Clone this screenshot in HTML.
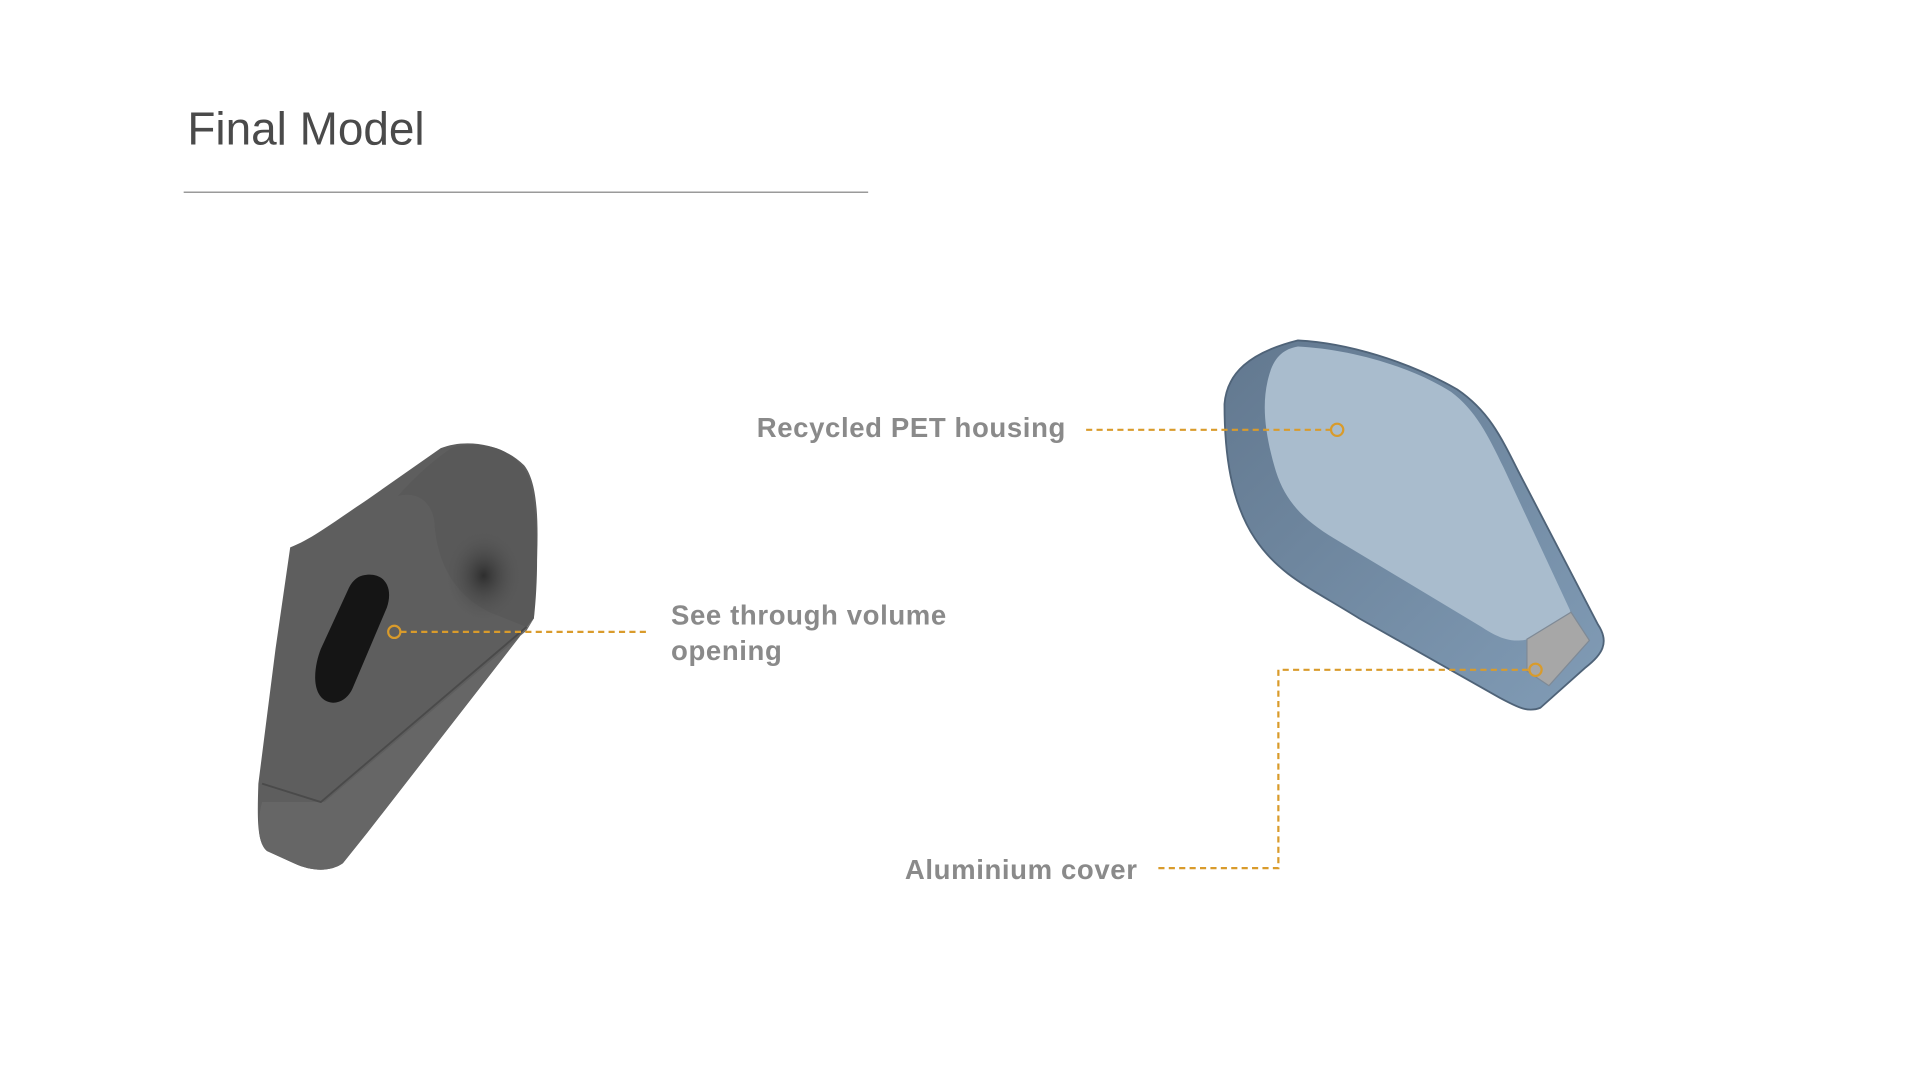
<!DOCTYPE html>
<html><head><meta charset="utf-8"><style>
html,body{margin:0;padding:0;background:#fff;width:1920px;height:1080px;overflow:hidden}
svg{display:block}
</style></head><body>
<svg width="1920" height="1080" viewBox="0 0 1568 882" xmlns="http://www.w3.org/2000/svg">
<defs>
<radialGradient id="sh" cx="0.5" cy="0.5" r="0.5"><stop offset="0" stop-color="#2e2e2e"/><stop offset="1" stop-color="#5a5a5a" stop-opacity="0"/></radialGradient>
<linearGradient id="side" x1="0" y1="0" x2="1" y2="1"><stop offset="0" stop-color="#62788f"/><stop offset="1" stop-color="#819cb6"/></linearGradient>
</defs>
<text x="153" y="118" font-family="Liberation Sans, sans-serif" font-size="37.5" fill="#4a4a4a">Final Model</text>
<line x1="150" y1="157" x2="709" y2="157" stroke="#9a9a9a" stroke-width="1.3"/>

<!-- gray object -->
<path d="M237,447 C255,440 270,428 300,408 L360,366 C380,358 410,362 428,380 C440,395 440,430 438,470 L436,505 L300,680 L280,705 C270,712 255,712 240,705 L218,695 C210,688 210,670 211,640 L225,530 Z" fill="#5e5e5e"/>
<path d="M325,405 C345,400 355,415 355,430 C358,460 370,485 400,500 L430,512 L436,505 C440,470 440,420 432,390 C420,365 395,360 370,365 C355,375 340,388 325,405 Z" fill="#595959"/>
<ellipse cx="395" cy="470" rx="32" ry="38" fill="url(#sh)"/>
<path d="M214,655 L265,655 L430,515 L436,505 L300,680 L280,705 C270,712 255,712 240,705 L218,695 C210,688 210,670 214,655 Z" fill="#666"/>
<path d="M214,640 L262,655 L430,512" fill="none" stroke="#4a4a4a" stroke-width="1.5"/>
<path d="M296,470 C312,466 322,478 316,496 L288,562 C282,576 266,578 260,566 C255,556 258,540 262,530 L285,480 C288,474 292,471 296,470 Z" fill="#151515"/>

<!-- blue object -->
<path d="M1060,278 C1100,280 1150,295 1190,318 C1215,335 1225,355 1240,385 L1305,510 C1315,525 1308,535 1295,545 L1258,578 C1248,582 1240,578 1225,570 L1110,505 C1070,480 1045,470 1025,440 C1005,410 1000,370 1000,330 C1002,305 1020,288 1060,278 Z" fill="url(#side)" stroke="#4f6378" stroke-width="1.5"/>
<path d="M1060,283 C1100,285 1150,298 1185,320 C1205,335 1215,355 1228,382 L1282,498 C1285,508 1278,512 1270,515 L1248,522 C1235,525 1225,522 1210,512 L1090,440 C1065,425 1050,410 1042,385 C1033,355 1030,330 1036,308 C1040,292 1048,285 1060,283 Z" fill="#a9bccd"/>
<path d="M1247,522 L1283,500 L1298,523 L1265,560 L1247,548 Z" fill="#a7a7a7" stroke="#7f8a96" stroke-width="1"/>

<!-- connectors -->
<g stroke="#d99b2b" stroke-width="1.8" fill="none" stroke-dasharray="5,3.5">
<line x1="327" y1="516" x2="528" y2="516"/>
<line x1="887" y1="351" x2="1087" y2="351"/>
<polyline points="946,709 1044,709 1044,547 1249,547"/>
</g>
<g stroke="#d99b2b" stroke-width="1.8" fill="none">
<circle cx="322" cy="516" r="5"/>
<circle cx="1092" cy="351" r="5"/>
<circle cx="1254" cy="547" r="5"/>
</g>

<g font-family="Liberation Sans, sans-serif" font-size="22.5" font-weight="bold" fill="#8a8a8a" letter-spacing="0.5">
<text x="618" y="357">Recycled PET housing</text>
<text x="548" y="510">See through volume</text>
<text x="548" y="539">opening</text>
<text x="739" y="718">Aluminium cover</text>
</g>
</svg>
</body></html>
